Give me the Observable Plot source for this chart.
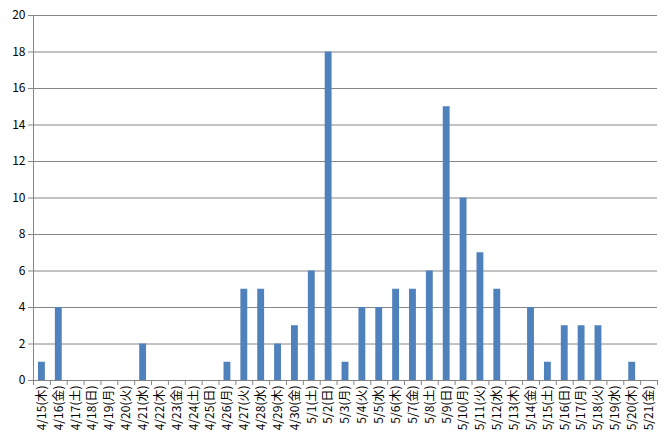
<!DOCTYPE html>
<html><head><meta charset="utf-8">
<script src="https://cdn.jsdelivr.net/npm/d3@7"></script>
<script src="https://cdn.jsdelivr.net/npm/@observablehq/plot@0.6"></script>
<style>
body{margin:0;background:#fff;}
#chart svg{display:block;}
</style>
</head><body><div id="chart"></div>
<script>
const dates = ["4/15","4/16","4/17","4/18","4/19","4/20","4/21","4/22","4/23","4/24","4/25","4/26","4/27","4/28","4/29","4/30","5/1","5/2","5/3","5/4","5/5","5/6","5/7","5/8","5/9","5/10","5/11","5/12","5/13","5/14","5/15","5/16","5/17","5/18","5/19","5/20","5/21"];
const weekdays = ["木","金","土","日","月","火","水","木","金","土","日","月","火","水","木","金","土","日","月","火","水","木","金","土","日","月","火","水","木","金","土","日","月","火","水","木","金"];
const counts = [1,4,0,0,0,0,2,0,0,0,0,1,5,5,2,3,6,18,1,4,4,5,5,6,15,10,7,5,0,4,1,3,3,3,0,1,0];
const yTicks = [0,2,4,6,8,10,12,14,16,18,20];

const labels = dates.map((d,i)=>`${d}(${weekdays[i]})`);
const data = dates.map((d,i)=>({i, label: labels[i], count: counts[i]}));
const n = dates.length;

const chart = Plot.plot({
  width: 664, height: 446,
  marginLeft: 33, marginRight: 7, marginTop: 15, marginBottom: 66,
  style: {fontFamily: "'Noto Sans CJK JP', sans-serif", fontSize: "12px", color: "#000", background: "#fff"},
  x: {type: "linear", domain: [0, n]},
  y: {domain: [0, 20]},
  marks: [
    Plot.gridY(yTicks.slice(1), {stroke: "#868686", strokeOpacity: 1}),
    Plot.rectY(data.filter(d=>d.count>0), {x1: "i", x2: d=>d.i+1, y: "count", fill: "#4F81BD", insetLeft: 5, insetRight: 5}),
    Plot.ruleY([0], {stroke: "#868686"}),
    Plot.ruleX([0], {stroke: "#868686"}),
    Plot.axisY(yTicks, {tickSize: 5, tickPadding: 3, stroke: "#868686", fill: "#000", fontSize: 12, label: null}),
    Plot.axisX(d3.range(n+1), {tickSize: 5, stroke: "#868686", tickFormat: () => "", label: null}),
    Plot.axisX(data.map(d=>d.i+0.5), {tickSize: 0, tickPadding: 5, tickRotate: -90, fill: "#000", fontSize: 12, tickFormat: v => labels[Math.round(v-0.5)], label: null})
  ]
});
document.getElementById("chart").append(chart);
</script>
</body></html>
